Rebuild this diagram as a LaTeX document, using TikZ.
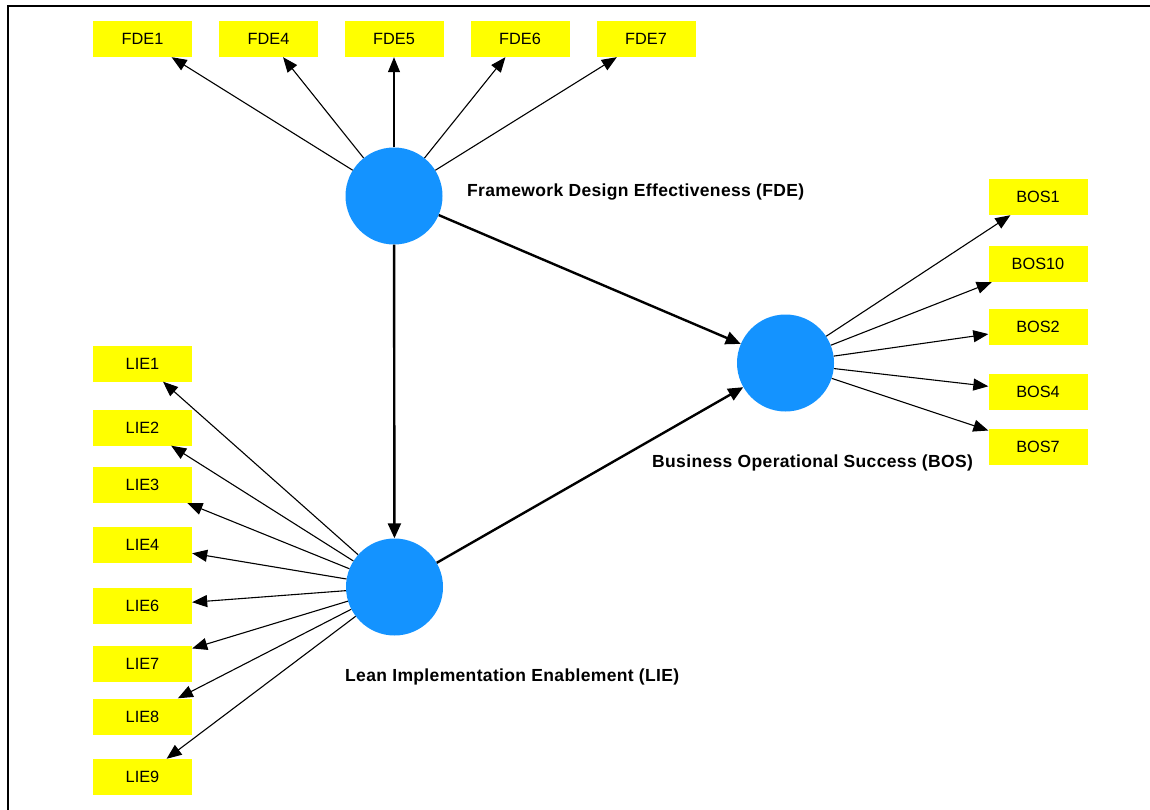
\documentclass[tikz,border=0pt]{standalone}
\usepackage{fontspec}
\setmainfont{Liberation Sans}
\usetikzlibrary{arrows.meta}
\definecolor{latent}{RGB}{20,147,255}
\definecolor{indic}{RGB}{255,255,0}
\begin{document}
\begin{tikzpicture}[x=1pt,y=-1pt,
  indicator/.style={fill=indic, minimum width=99pt, minimum height=36pt, inner sep=0pt,
    font=\fontsize{16.3}{18}\selectfont},
  construct/.style={circle, fill=latent, minimum size=97pt, inner sep=0pt},
  conlabel/.style={font=\fontsize{17.5}{20}\selectfont\bfseries\addfontfeatures{LetterSpace=2}, anchor=base west, inner sep=0pt},
  load/.style={-{Triangle[length=15pt,width=12pt]}, line width=1.1pt},
  relation/.style={-{Triangle[length=15pt,width=13pt]}, line width=2.4pt},
]
\useasboundingbox (0,0) rectangle (1150,810);
% frame
\draw[line width=1.5pt] (8,810) -- (8,6) -- (1150,6);

% constructs
\node[construct] (FDE) at (394,196) {};
\node[construct] (BOS) at (785.5,363) {};
\node[construct] (LIE) at (394.5,587) {};

\node[conlabel] (FDElab) at (467,197) {Framework Design Effectiveness (FDE)};
\node[conlabel] (BOSlab) at (652,467) {Business Operational Success (BOS)};
\node[conlabel] (LIElab) at (345,681) {Lean Implementation Enablement (LIE)};

% FDE indicators
\node[indicator] (FDE1) at (142.5,39) {FDE1};
\node[indicator] (FDE4) at (268.5,39) {FDE4};
\node[indicator] (FDE5) at (394,39) {FDE5};
\node[indicator] (FDE6) at (520,39) {FDE6};
\node[indicator] (FDE7) at (646,39) {FDE7};

% BOS indicators
\node[indicator] (BOS1) at (1038,197) {BOS1};
\node[indicator] (BOS10) at (1038,264) {BOS10};
\node[indicator] (BOS2) at (1038,327) {BOS2};
\node[indicator] (BOS4) at (1038,392) {BOS4};
\node[indicator] (BOS7) at (1038,447) {BOS7};

% LIE indicators
\node[indicator] (LIE1) at (142.5,363.5) {LIE1};
\node[indicator] (LIE2) at (142.5,427.5) {LIE2};
\node[indicator] (LIE3) at (142.5,485) {LIE3};
\node[indicator] (LIE4) at (142.5,545) {LIE4};
\node[indicator] (LIE6) at (142.5,606) {LIE6};
\node[indicator] (LIE7) at (142.5,663.5) {LIE7};
\node[indicator] (LIE8) at (142.5,716.5) {LIE8};
\node[indicator] (LIE9) at (142.5,777) {LIE9};

% loadings
\foreach \i in {FDE1,FDE4,FDE5,FDE6,FDE7} \draw[load] (FDE) -- (\i);
\foreach \i in {BOS1,BOS10,BOS2,BOS4,BOS7} \draw[load] (BOS) -- (\i);
\foreach \i in {LIE1,LIE2,LIE3,LIE4,LIE6,LIE7,LIE8,LIE9} \draw[load] (LIE) -- (\i);

% structural paths
\draw[relation] (FDE) -- (LIE);
\draw[relation] (FDE) -- (BOS);
\draw[relation] (LIE) -- (BOS);
\end{tikzpicture}
\end{document}
